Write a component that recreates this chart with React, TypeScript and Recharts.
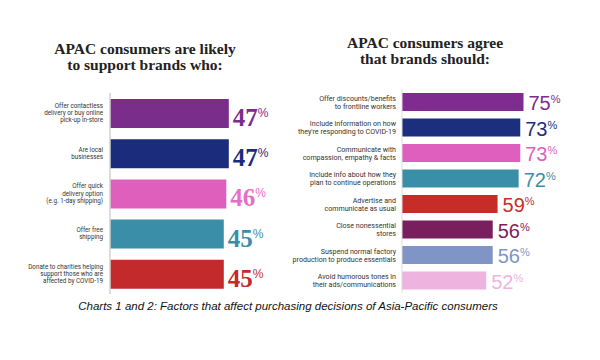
import React from "react";
import { BarChart, Bar, XAxis, YAxis, Cell, LabelList } from "recharts";

const leftCategories = [
  "Offer contactless\ndelivery or buy online\npick-up in-store",
  "Are local\nbusinesses",
  "Offer quick\ndelivery option\n(e.g. 1-day shipping)",
  "Offer free\nshipping",
  "Donate to charities helping\nsupport those who are\naffected by COVID-19",
];
const leftValues = [47, 47, 46, 45, 45];
const leftBarColors = ["#7b2d8b", "#1b2c7c", "#df5fbd", "#3a8ea7", "#c22a2b"];
const leftTextColors = ["#7b2d8b", "#1b2c7c", "#e46fc8", "#3a8ea7", "#c22a2b"];

const rightCategories = [
  "Offer discounts/benefits\nto frontline workers",
  "Include information on how\nthey're responding to COVID-19",
  "Communicate with\ncompassion, empathy & facts",
  "Include info about how they\nplan to continue operations",
  "Advertise and\ncommunicate as usual",
  "Close nonessential\nstores",
  "Suspend normal factory\nproduction to produce essentials",
  "Avoid humorous tones in\ntheir ads/communications",
];
const rightValues = [75, 73, 73, 72, 59, 56, 56, 52];
const rightBarColors = [
  "#7e2d8e", "#1b2f7e", "#df5fbf", "#3a8fa8",
  "#c62d28", "#7a1f5d", "#7e95c5", "#efb3df",
];

const leftData = leftCategories.map((name, i) => ({ name, value: leftValues[i] }));
const rightData = rightCategories.map((name, i) => ({ name, value: rightValues[i] }));

function WrappedTick({ x, y, payload, lineHeight, fontSize }: any) {
  const lines = String(payload.value).split("\n");
  const startY = y - ((lines.length - 1) * lineHeight) / 2;
  return (
    <text
      x={x}
      y={startY}
      textAnchor="end"
      fontSize={fontSize}
      fill="#333"
      fontFamily="Roboto, sans-serif"
      dominantBaseline="central"
    >
      {lines.map((l, i) => (
        <tspan key={i} x={x} y={startY + i * lineHeight}>
          {l}
        </tspan>
      ))}
    </text>
  );
}

function makeValueLabel(colors: string[], big: boolean) {
  return (props: any) => {
    const { x, y, width, height, value, index } = props;
    const fill = colors[index];
    const base = y + height - (big ? 2 : 1);
    const tx = x + width + (big ? 4 : 5);
    return (
      <text x={tx} y={base} fill={fill}>
        <tspan
          fontFamily={big ? "'Liberation Serif', serif" : "'Liberation Sans', Arial, sans-serif"}
          fontWeight={big ? 700 : 400}
          fontSize={big ? 25 : 20}
        >
          {value}
        </tspan>
        <tspan
          fontFamily="'Liberation Sans', Arial, sans-serif"
          fontSize={big ? 12 : 11}
          dy={big ? -9 : -7}
        >
          %
        </tspan>
      </text>
    );
  };
}

const titleStyle: React.CSSProperties = {
  position: "absolute",
  fontFamily: "'Liberation Serif', serif",
  fontWeight: 700,
  fontSize: 15.5,
  lineHeight: "15.5px",
  color: "#222",
  textAlign: "center",
  whiteSpace: "nowrap",
};

export default function App() {
  return (
    <div
      style={{
        position: "absolute",
        left: 0,
        top: 0,
        width: 600,
        height: 360,
        background: "#fff",
        overflow: "hidden",
      }}
    >
      <div style={{ ...titleStyle, left: 45, width: 200, top: 41 }}>
        APAC consumers are likely
        <br />
        to support brands who:
      </div>
      <div style={{ ...titleStyle, left: 325, width: 200, top: 35 }}>
        APAC consumers agree
        <br />
        that brands should:
      </div>

      <div style={{ position: "absolute", left: 0, top: 0 }}>
        <BarChart
          width={290}
          height={300}
          layout="vertical"
          data={leftData}
          margin={{ top: 93, right: 3, bottom: 6, left: 0 }}
        >
          <XAxis type="number" domain={[0, 70]} hide />
          <YAxis
            type="category"
            dataKey="name"
            width={110}
            tickLine={false}
            tickMargin={1}
            axisLine={{ stroke: "#d2d2d2", strokeWidth: 1.5 }}
            interval={0}
            tick={<WrappedTick lineHeight={7.3} fontSize={6.3} />}
          />
          <Bar dataKey="value" barSize={29} isAnimationActive={false}>
            {leftData.map((d, i) => (
              <Cell key={d.name} fill={leftBarColors[i]} />
            ))}
            <LabelList dataKey="value" content={makeValueLabel(leftTextColors, true)} />
          </Bar>
        </BarChart>
      </div>

      <div style={{ position: "absolute", left: 290, top: 0 }}>
        <BarChart
          width={310}
          height={300}
          layout="vertical"
          data={rightData}
          margin={{ top: 89, right: 36, bottom: 7, left: 0 }}
        >
          <XAxis type="number" domain={[0, 100]} hide />
          <YAxis
            type="category"
            dataKey="name"
            width={112}
            tickLine={false}
            tickMargin={0}
            axisLine={{ stroke: "#dcdcdc", strokeWidth: 1 }}
            interval={0}
            tick={<WrappedTick lineHeight={8} fontSize={7.1} />}
          />
          <Bar dataKey="value" barSize={18} isAnimationActive={false}>
            {rightData.map((d, i) => (
              <Cell key={d.name} fill={rightBarColors[i]} />
            ))}
            <LabelList dataKey="value" content={makeValueLabel(rightBarColors, false)} />
          </Bar>
        </BarChart>
      </div>

      <div
        style={{
          position: "absolute",
          left: 0,
          width: 576,
          top: 300,
          textAlign: "center",
          fontFamily: "'Liberation Sans', Arial, sans-serif",
          fontStyle: "italic",
          fontSize: 11.5,
          color: "#111",
        }}
      >
        Charts 1 and 2: Factors that affect purchasing decisions of Asia-Pacific consumers
      </div>
    </div>
  );
}
